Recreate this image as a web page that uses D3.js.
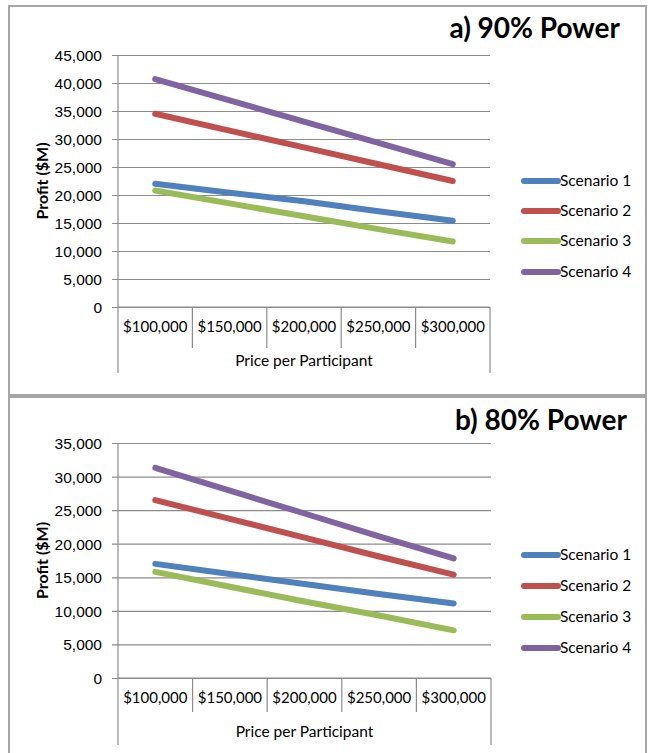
<!DOCTYPE html>
<html>
<head>
<meta charset="utf-8">
<script src="https://cdn.jsdelivr.net/npm/d3@7"></script>
<style>
  html, body { margin: 0; padding: 0; background: #fff; }
  svg { display: block; font-family: Lato, "Open Sans", sans-serif; }
</style>
</head>
<body>
<svg id="chart" width="648" height="753"></svg>
<script>
// ---- data ----
const categories = ["$100,000", "$150,000", "$200,000", "$250,000", "$300,000"];
const seriesNames = ["Scenario 1", "Scenario 2", "Scenario 3", "Scenario 4"];
const seriesColors = ["#4F81BD", "#C0504D", "#9BBB59", "#8064A2"];

// a) 90% Power
const power90Scenario1 = [22000, 20400, 18900, 17100, 15400];
const power90Scenario2 = [34500, 31500, 28500, 25500, 22500];
const power90Scenario3 = [20800, 18500, 16200, 13900, 11700];
const power90Scenario4 = [40700, 36900, 33100, 29300, 25500];
const power90Ticks = [0, 5000, 10000, 15000, 20000, 25000, 30000, 35000, 40000, 45000];

// b) 80% Power
const power80Scenario1 = [17000, 15500, 14000, 12500, 11100];
const power80Scenario2 = [26500, 23700, 20900, 18100, 15400];
const power80Scenario3 = [15800, 13600, 11400, 9300, 7100];
const power80Scenario4 = [31300, 27900, 24500, 21100, 17800];
const power80Ticks = [0, 5000, 10000, 15000, 20000, 25000, 30000, 35000];

const xTitle = "Price per Participant";
const yTitle = "Profit ($M)";

// ---- drawing ----
const svg = d3.select("#chart");
svg.append("rect").attr("width", 648).attr("height", 753).attr("fill", "#fff");

function drawPanel(cfg) {
  const g = svg.append("g");
  // outer frame
  g.append("rect")
    .attr("x", cfg.box[0]).attr("y", cfg.box[1])
    .attr("width", cfg.box[2]).attr("height", cfg.box[3])
    .attr("fill", "none").attr("stroke", "#a6a6a6").attr("stroke-width", 2);

  const x = d3.scaleBand().domain(categories).range([cfg.left, cfg.right]);
  const y = d3.scaleLinear().domain([0, d3.max(cfg.ticks)]).range([cfg.bottom, cfg.top]);

  // gridlines + y ticks
  const yAxis = d3.axisLeft(y).tickValues(cfg.ticks)
    .tickSize(-(cfg.right - cfg.left)).tickFormat(d3.format(","));
  const ya = g.append("g").attr("transform", `translate(${cfg.left},0)`).call(yAxis);
  ya.select(".domain").remove();
  ya.selectAll(".tick line").attr("stroke", "#8c8c8c").attr("stroke-width", 1.2)
    .attr("x1", -6);
  ya.selectAll(".tick text").attr("x", -16).attr("font-size", 15.5).attr("fill", "#000")
    .attr("dy", "0.35em");

  // y axis line extended down
  g.append("line")
    .attr("x1", cfg.left).attr("x2", cfg.left)
    .attr("y1", cfg.top).attr("y2", cfg.outerBottom)
    .attr("stroke", "#8c8c8c").attr("stroke-width", 1.2);
  // right outer line
  g.append("line")
    .attr("x1", cfg.right).attr("x2", cfg.right)
    .attr("y1", cfg.bottom).attr("y2", cfg.outerBottom)
    .attr("stroke", "#8c8c8c").attr("stroke-width", 1.2);
  // inner category separators
  g.selectAll(".sep").data(categories.slice(1)).enter().append("line")
    .attr("x1", d => x(d)).attr("x2", d => x(d))
    .attr("y1", cfg.bottom).attr("y2", cfg.sepBottom)
    .attr("stroke", "#8c8c8c").attr("stroke-width", 1.2);
  // x axis line
  g.append("line")
    .attr("x1", cfg.left).attr("x2", cfg.right)
    .attr("y1", cfg.bottom).attr("y2", cfg.bottom)
    .attr("stroke", "#8c8c8c").attr("stroke-width", 1.2);

  // category labels
  g.selectAll(".cat").data(categories).enter().append("text")
    .attr("x", d => x(d) + x.bandwidth() / 2)
    .attr("y", cfg.catY)
    .attr("text-anchor", "middle").attr("dy", "0.35em")
    .attr("font-size", 15).attr("fill", "#000")
    .text(d => d);

  g.append("text")
    .attr("x", (cfg.left + cfg.right) / 2).attr("y", cfg.xTitleY)
    .attr("text-anchor", "middle").attr("dy", "0.35em")
    .attr("font-size", 15.5).attr("fill", "#000").text(xTitle);

  g.append("text")
    .attr("transform", `translate(${cfg.yTitleX},${(cfg.top + cfg.bottom) / 2}) rotate(-90)`)
    .attr("text-anchor", "middle").attr("dy", "0.35em")
    .attr("font-size", 16).attr("font-weight", "bold").attr("fill", "#000").text(yTitle);

  // title
  g.append("text")
    .attr("x", cfg.titleX).attr("y", cfg.titleY)
    .attr("text-anchor", "end")
    .attr("font-size", 28).attr("font-weight", "bold").attr("fill", "#000")
    .text(cfg.title);

  // lines
  const line = d3.line()
    .x((d, i) => x(categories[i]) + x.bandwidth() / 2)
    .y(d => y(d));
  cfg.series.forEach((s, i) => {
    g.append("path").datum(s)
      .attr("d", line)
      .attr("fill", "none")
      .attr("stroke", seriesColors[i])
      .attr("stroke-width", 6)
      .attr("stroke-linecap", "round")
      .attr("stroke-linejoin", "round");
  });

  // legend
  const lg = g.selectAll(".leg").data(seriesNames).enter().append("g")
    .attr("transform", (d, i) => `translate(${cfg.legendX},${cfg.legendY[i]})`);
  lg.append("line").attr("x1", 0).attr("x2", 34)
    .attr("stroke", (d, i) => seriesColors[i])
    .attr("stroke-width", 6).attr("stroke-linecap", "round");
  lg.append("text").attr("x", 36).attr("dy", "0.35em")
    .attr("font-size", 15.5).attr("fill", "#000").text(d => d);
}

drawPanel({
  box: [9, 6, 637, 389],
  left: 118, right: 490, top: 55, bottom: 307,
  sepBottom: 348, outerBottom: 373, catY: 327, xTitleY: 361,
  yTitleX: 42, ticks: power90Ticks,
  title: "a) 90% Power", titleX: 620, titleY: 38,
  series: [power90Scenario1, power90Scenario2, power90Scenario3, power90Scenario4],
  legendX: 524, legendY: [181, 211, 241, 272]
});

drawPanel({
  box: [9, 397, 637, 370],
  left: 118, right: 491, top: 443, bottom: 678,
  sepBottom: 712, outerBottom: 745, catY: 698, xTitleY: 732,
  yTitleX: 42, ticks: power80Ticks,
  title: "b) 80% Power", titleX: 627, titleY: 430,
  series: [power80Scenario1, power80Scenario2, power80Scenario3, power80Scenario4],
  legendX: 524, legendY: [555, 586, 617, 648]
});
</script>
</body>
</html>
